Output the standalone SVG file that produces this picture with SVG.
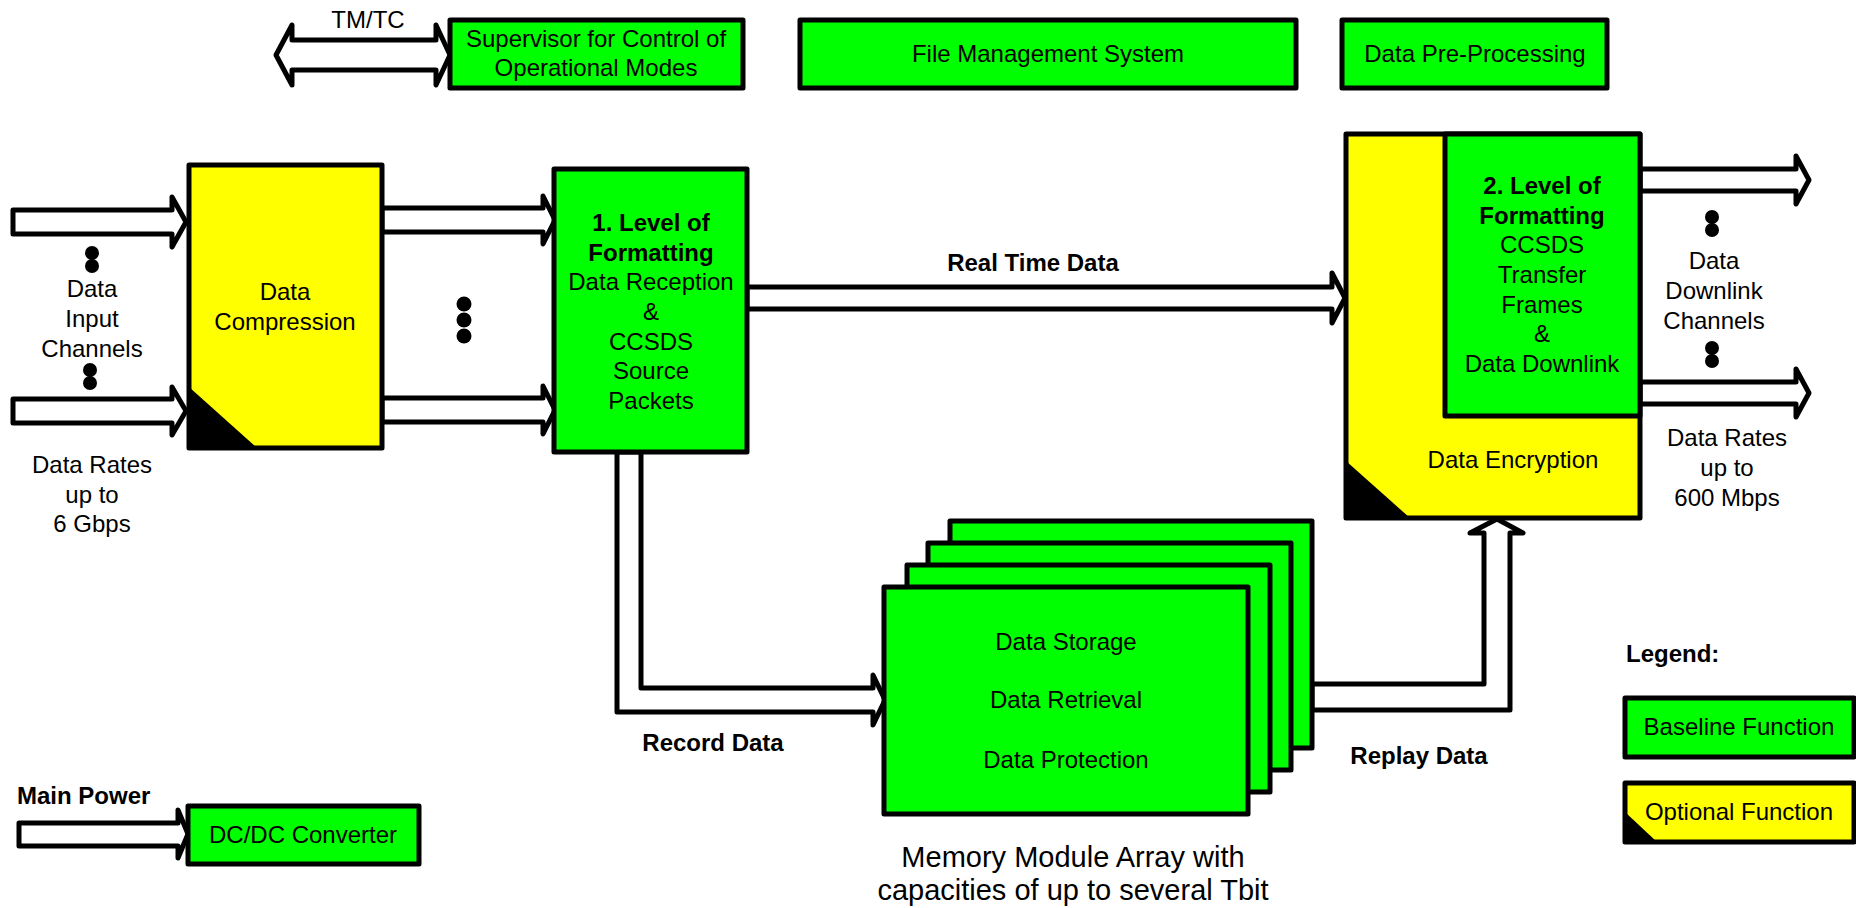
<svg xmlns="http://www.w3.org/2000/svg" width="1856" height="908" viewBox="0 0 1856 908">
<style>
text{font-family:"Liberation Sans",Arial,sans-serif;font-size:24px;fill:#000;text-anchor:middle}
.b{font-weight:bold}
.l{text-anchor:start}
.g{fill:#00ff00;stroke:#000;stroke-width:5;stroke-linejoin:round}
.y{fill:#ffff00;stroke:#000;stroke-width:5;stroke-linejoin:round}
.a{fill:#fff;stroke:#000;stroke-width:5;stroke-linejoin:round}
.t{fill:#000;stroke:none}
.d{fill:#000}
</style>
<rect width="1856" height="908" fill="#fff"/>

<g id="connectors">
  <path class="a" d="M276,55 L292,25 V40 H436 V25 L450,55 L436,85 V70 H292 V85 Z"/>
  <path class="a" d="M13,210 H172 V197 L186,222 L172,247 V234 H13 Z"/>
  <path class="a" d="M13,399 H172 V387 L186,411 L172,435 V423 H13 Z"/>
  <path class="a" d="M382,208 H543 V196 L555,220 L543,244 V232 H382 Z"/>
  <path class="a" d="M382,398 H543 V386 L555,410 L543,434 V422 H382 Z"/>
  <path class="a" d="M747,287 H1332 V273 L1345,298 L1332,323 V309 H747 Z"/>
  <path class="a" d="M617,452 V712 H873 V725 L885,700 L873,675 V688 H641 V452 Z"/>
  <path class="a" d="M1312,684 H1484 V533 H1470 L1497,519 L1523,533 H1510 V710 H1312 Z"/>
  <path class="a" d="M1640,169 H1796 V156 L1809,180 L1796,204 V191 H1640 Z"/>
  <path class="a" d="M1640,382 H1796 V369 L1809,393 L1796,417 V404 H1640 Z"/>
  <path class="a" d="M19,823 H178 V810 L188,834 L178,858 V846 H19 Z"/>
</g>

<g id="tmtc-label"><text x="368" y="28">TM/TC</text></g>

<g id="supervisor">
  <rect class="g" x="450" y="20" width="293" height="68"/>
  <text x="596" y="47">Supervisor for Control of</text>
  <text x="596" y="76">Operational Modes</text>
</g>

<g id="file-management">
  <rect class="g" x="800" y="20" width="496" height="68"/>
  <text x="1048" y="62">File Management System</text>
</g>

<g id="data-preprocessing">
  <rect class="g" x="1342" y="20" width="265" height="68"/>
  <text x="1475" y="62">Data Pre-Processing</text>
</g>

<g id="data-compression">
  <rect class="y" x="189" y="165" width="193" height="283"/>
  <path class="t" d="M189,387 L189,448 L257,448 Z"/>
  <text x="285" y="300">Data</text>
  <text x="285" y="330">Compression</text>
</g>

<g id="input-labels">
  <circle class="d" cx="92" cy="253" r="7"/>
  <circle class="d" cx="92" cy="266" r="7"/>
  <text x="92" y="297">Data</text>
  <text x="92" y="327">Input</text>
  <text x="92" y="357">Channels</text>
  <circle class="d" cx="90" cy="370" r="7"/>
  <circle class="d" cx="90" cy="383" r="7"/>
  <text x="92" y="473">Data Rates</text>
  <text x="92" y="503">up to</text>
  <text x="92" y="532">6 Gbps</text>
</g>

<g id="ellipsis">
  <circle class="d" cx="464" cy="304" r="7.5"/>
  <circle class="d" cx="464" cy="320" r="7.5"/>
  <circle class="d" cx="464" cy="336" r="7.5"/>
</g>

<g id="formatting-1">
  <rect class="g" x="554" y="169" width="193" height="283"/>
  <text class="b" x="651" y="231">1. Level of</text>
  <text class="b" x="651" y="261">Formatting</text>
  <text x="651" y="290">Data Reception</text>
  <text x="651" y="320">&amp;</text>
  <text x="651" y="350">CCSDS</text>
  <text x="651" y="379">Source</text>
  <text x="651" y="409">Packets</text>
</g>

<g id="real-time-label"><text class="b" x="1033" y="271">Real Time Data</text></g>

<g id="encryption">
  <rect class="y" x="1346" y="134" width="294" height="384"/>
  <path class="t" d="M1346,461 L1346,518 L1410,518 Z"/>
  <text x="1513" y="468">Data Encryption</text>
</g>

<g id="formatting-2">
  <rect class="g" x="1445" y="134" width="195" height="282"/>
  <text class="b" x="1542" y="194">2. Level of</text>
  <text class="b" x="1542" y="224">Formatting</text>
  <text x="1542" y="253">CCSDS</text>
  <text x="1542" y="283">Transfer</text>
  <text x="1542" y="313">Frames</text>
  <text x="1542" y="342">&amp;</text>
  <text x="1542" y="372">Data Downlink</text>
</g>

<g id="output-labels">
  <circle class="d" cx="1712" cy="217" r="7"/>
  <circle class="d" cx="1712" cy="230" r="7"/>
  <text x="1714" y="269">Data</text>
  <text x="1714" y="299">Downlink</text>
  <text x="1714" y="329">Channels</text>
  <circle class="d" cx="1712" cy="348" r="7"/>
  <circle class="d" cx="1712" cy="361" r="7"/>
  <text x="1727" y="446">Data Rates</text>
  <text x="1727" y="476">up to</text>
  <text x="1727" y="506">600 Mbps</text>
</g>

<g id="memory-array">
  <rect class="g" x="950" y="521" width="362" height="227"/>
  <rect class="g" x="928" y="543" width="363" height="227"/>
  <rect class="g" x="907" y="565" width="363" height="227"/>
  <rect class="g" x="884" y="587" width="364" height="227"/>
  <text x="1066" y="650">Data Storage</text>
  <text x="1066" y="708">Data Retrieval</text>
  <text x="1066" y="768">Data Protection</text>
  <text x="1073" y="867" style="font-size:29px">Memory Module Array with</text>
  <text x="1073" y="900" style="font-size:29px">capacities of up to several Tbit</text>
</g>

<g id="record-label"><text class="b" x="713" y="751">Record Data</text></g>
<g id="replay-label"><text class="b" x="1419" y="764">Replay Data</text></g>

<g id="dcdc">
  <text class="b l" x="17" y="804">Main Power</text>
  <rect class="g" x="188" y="806" width="231" height="58"/>
  <text x="303" y="843">DC/DC Converter</text>
</g>

<g id="legend">
  <text class="b l" x="1626" y="662">Legend:</text>
  <rect class="g" x="1625" y="698" width="229" height="59"/>
  <text x="1739" y="735">Baseline Function</text>
  <rect class="y" x="1625" y="783" width="229" height="59"/>
  <path class="t" d="M1625,812 L1625,842 L1657,842 Z"/>
  <text x="1739" y="820">Optional Function</text>
</g>
</svg>
